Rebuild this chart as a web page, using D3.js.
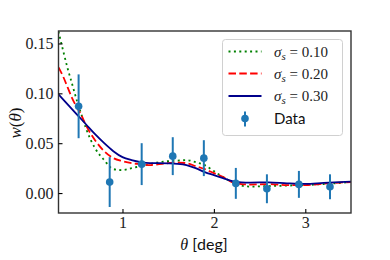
<!DOCTYPE html>
<html>
<head>
<meta charset="utf-8">
<script src="https://cdn.jsdelivr.net/npm/d3@7"></script>
<style>
  html, body { margin: 0; padding: 0; background: #fff; }
  svg { display: block; }
  .serif { font-family: "Liberation Serif", "DejaVu Serif", serif; }
  .sans { font-family: "Lato", "DejaVu Sans", sans-serif; }
</style>
</head>
<body>
<div id="chart"></div>
<script>
// curve sample points (theta in deg)
const thetaGrid = [0.30, 0.35, 0.40, 0.45, 0.50, 0.55, 0.60, 0.70, 0.80, 0.90, 1.00, 1.10, 1.20, 1.30, 1.40,
                   1.50, 1.60, 1.70, 1.80, 1.90, 2.00, 2.10, 2.20, 2.30, 2.40, 2.60, 2.80, 3.00, 3.20, 3.50];
const w010 = [0.162, 0.143, 0.125, 0.109, 0.093, 0.079, 0.065, 0.045, 0.033, 0.024, 0.023, 0.025, 0.027, 0.029, 0.031,
              0.032, 0.0325, 0.033, 0.031, 0.028, 0.022, 0.016, 0.011, 0.0075, 0.0065, 0.007, 0.0075, 0.008, 0.009, 0.011];
const w020 = [0.126, 0.117, 0.106, 0.095, 0.086, 0.078, 0.068, 0.053, 0.042, 0.035, 0.032, 0.030, 0.029, 0.028, 0.029,
              0.030, 0.0305, 0.030, 0.027, 0.024, 0.020, 0.016, 0.011, 0.009, 0.0085, 0.009, 0.008, 0.008, 0.0095, 0.011];
const w030 = [0.099, 0.094, 0.089, 0.084, 0.079, 0.074, 0.069, 0.059, 0.050, 0.042, 0.036, 0.033, 0.031, 0.030, 0.030,
              0.0298, 0.0293, 0.028, 0.025, 0.021, 0.018, 0.015, 0.012, 0.0108, 0.0105, 0.0108, 0.0098, 0.0092, 0.0102, 0.0115];

// measured points
const dataTheta = [0.52, 0.86, 1.21, 1.55, 1.89, 2.24, 2.58, 2.93, 3.27];
const dataW     = [0.087, 0.011, 0.029, 0.037, 0.035, 0.0097, 0.0043, 0.0087, 0.0063];
const dataErr   = [0.032, 0.025, 0.021, 0.019, 0.018, 0.0155, 0.0145, 0.0135, 0.0125];

const xTicks = [1, 2, 3];
const yTicks = [0.00, 0.05, 0.10, 0.15];

const models = [
    { label: "0.10", values: w010, color: "green", dash: "2,3.4" },
    { label: "0.20", values: w020, color: "red", dash: "7.5,3.3" },
    { label: "0.30", values: w030, color: "darkblue", dash: null }
];

const width = 390, height = 260;
const margin = { left: 58.5, right: 39, top: 31, bottom: 47 };

const svg = d3.select("#chart")
    .append("svg")
    .attr("width", width)
    .attr("height", height);

const x = d3.scaleLinear().domain([0.3, 3.5]).range([margin.left, width - margin.right]);
const y = d3.scaleLinear().domain([-0.02, 0.1625]).range([height - margin.bottom, margin.top]);

const plot = svg.append("g");

// clip to plot area
svg.append("defs").append("clipPath").attr("id", "clip")
    .append("rect")
    .attr("x", margin.left).attr("y", margin.top)
    .attr("width", x.range()[1] - margin.left)
    .attr("height", y.range()[0] - margin.top);

const line = d3.line()
    .x(d => x(d[0]))
    .y(d => y(d[1]))
    .curve(d3.curveMonotoneX);

models.forEach(m => {
    plot.append("path")
        .attr("clip-path", "url(#clip)")
        .attr("d", line(thetaGrid.map((t, i) => [t, m.values[i]])))
        .attr("fill", "none")
        .attr("stroke", m.color)
        .attr("stroke-width", 1.8)
        .attr("stroke-dasharray", m.dash);
});

// error bars
const pts = dataTheta.map((t, i) => ({ t: t, w: dataW[i], e: dataErr[i] }));
plot.selectAll(".err")
    .data(pts)
    .join("line")
    .attr("class", "err")
    .attr("x1", d => x(d.t)).attr("x2", d => x(d.t))
    .attr("y1", d => y(d.w - d.e)).attr("y2", d => y(d.w + d.e))
    .attr("stroke", "#1f77b4")
    .attr("stroke-width", 2);
plot.selectAll(".pt")
    .data(pts)
    .join("circle")
    .attr("class", "pt")
    .attr("cx", d => x(d.t)).attr("cy", d => y(d.w))
    .attr("r", 3.8)
    .attr("fill", "#1f77b4");

// frame
svg.append("rect")
    .attr("x", margin.left).attr("y", margin.top)
    .attr("width", x.range()[1] - margin.left)
    .attr("height", y.range()[0] - margin.top)
    .attr("fill", "none")
    .attr("stroke", "#333")
    .attr("stroke-width", 1.4);

// ticks (inward)
const xAxis = svg.append("g")
    .attr("transform", `translate(0,${y.range()[0]})`)
    .call(d3.axisBottom(x).tickValues(xTicks).tickSizeInner(-4).tickSizeOuter(0).tickPadding(4).tickFormat(d3.format("d")));
const yAxis = svg.append("g")
    .attr("transform", `translate(${margin.left},0)`)
    .call(d3.axisLeft(y).tickValues(yTicks).tickSizeInner(-4).tickSizeOuter(0).tickPadding(5).tickFormat(d3.format(".2f")));
[xAxis, yAxis].forEach(a => {
    a.select(".domain").remove();
    a.selectAll(".tick line").attr("stroke", "#000").attr("stroke-width", 1.1);
    a.selectAll(".tick text")
        .attr("class", "serif")
        .style("font-size", "16px")
        .attr("fill", "#222");
});

// axis labels
const xl = svg.append("text")
    .attr("x", 204).attr("y", 250)
    .attr("text-anchor", "middle")
    .style("font-size", "16px")
    .attr("fill", "#111");
xl.append("tspan").attr("class", "serif").attr("font-style", "italic").text("θ ");
xl.append("tspan").attr("class", "sans").text("[deg]");

const yl = svg.append("text")
    .attr("transform", "translate(21,123) rotate(-90)")
    .attr("text-anchor", "middle")
    .attr("class", "serif")
    .style("font-size", "17px")
    .attr("fill", "#111");
yl.append("tspan").attr("font-style", "italic").text("w");
yl.append("tspan").text("(");
yl.append("tspan").attr("font-style", "italic").text("θ");
yl.append("tspan").text(")");

// legend
const leg = svg.append("g");
leg.append("rect")
    .attr("x", 222.5).attr("y", 39.5)
    .attr("width", 120).attr("height", 96)
    .attr("rx", 3)
    .attr("fill", "#fff").attr("fill-opacity", 0.8)
    .attr("stroke", "#d0d0d0");
const rowY = [51.5, 73.5, 96, 118.5];
models.forEach((m, i) => {
    leg.append("line")
        .attr("x1", 228.5).attr("x2", 261.5)
        .attr("y1", rowY[i]).attr("y2", rowY[i])
        .attr("stroke", m.color)
        .attr("stroke-width", 1.8)
        .attr("stroke-dasharray", m.dash);
    const t = leg.append("text")
        .attr("x", 274).attr("y", rowY[i] + 5)
        .attr("class", "serif")
        .style("font-size", "15px")
        .attr("fill", "#222");
    t.append("tspan").attr("font-style", "italic").text("σ");
    t.append("tspan").attr("font-style", "italic").attr("dy", 3).style("font-size", "11px").text("s");
    t.append("tspan").attr("dy", -3).text(" = " + m.label);
});
leg.append("line")
    .attr("x1", 245).attr("x2", 245)
    .attr("y1", rowY[3] - 7).attr("y2", rowY[3] + 8)
    .attr("stroke", "#1f77b4").attr("stroke-width", 2);
leg.append("circle")
    .attr("cx", 245).attr("cy", rowY[3]).attr("r", 3.8)
    .attr("fill", "#1f77b4");
leg.append("text")
    .attr("x", 274).attr("y", rowY[3] + 5)
    .attr("class", "sans")
    .style("font-size", "15px")
    .attr("fill", "#111")
    .text("Data");
</script>
</body>
</html>
